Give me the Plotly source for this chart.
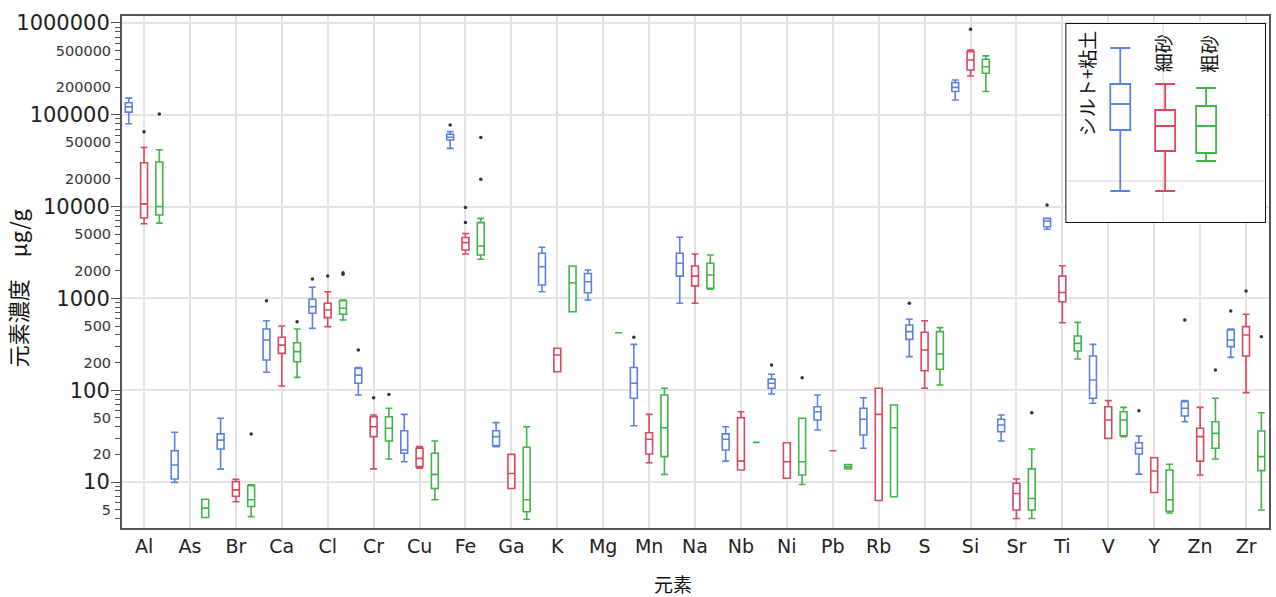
import plotly.graph_objects as go

# Elements on the x axis
ELEMENTS = ["Al", "As", "Br", "Ca", "Cl", "Cr", "Cu", "Fe", "Ga", "K", "Mg", "Mn", "Na",
            "Nb", "Ni", "Pb", "Rb", "S", "Si", "Sr", "Ti", "V", "Y", "Zn", "Zr"]

GROUPS = ["シルト+粘土", "細砂", "粗砂"]

# Five-number summaries (lower whisker, Q1, median, Q3, upper whisker) in µg/g,
# one entry per element; None where the fraction has no data.
SILT_CLAY = [
    (80000, 107000, 122000, 135000, 152000),  # Al
    (9.9, 10.8, 15.3, 21.9, 34.8),            # As
    (13.8, 22.9, 28.6, 33.4, 49.4),           # Br
    (157, 213, 352, 464, 571),                # Ca
    (472, 689, 813, 977, 1320),               # Cl
    (88.7, 119, 146, 173, 177),               # Cr
    (16.6, 20.6, 22.3, 36.2, 54.6),           # Cu
    (43100, 53100, 56900, 61300, 65500),      # Fe
    (24.3, 24.9, 31.2, 36.2, 44.3),           # Ga
    (1180, 1400, 2210, 3100, 3600),           # K
    (962, 1150, 1520, 1870, 2040),            # Mg
    (41, 81.7, 119, 177, 316),                # Mn
    (885, 1750, 2410, 3100, 4640),            # Na
    (16.9, 22.3, 29.2, 33.4, 40),             # Nb
    (91, 105, 119, 132, 149),                 # Ni
    (36.8, 47.3, 58.3, 66, 88.7),             # Pb
    (23.3, 32.5, 48.2, 63.5, 82.8),           # Rb
    (232, 358, 434, 513, 592),                # S
    (145000, 179000, 199000, 224000, 239000), # Si
    (28, 35.3, 41.8, 48.2, 53.7),             # Sr
    (5660, 6040, 6970, 7450, 7450),           # Ti
    (72, 81.7, 129, 236, 316),                # V
    (12.2, 20.2, 23.3, 26.8, 31.7),           # Y
    (45.4, 52.4, 63.5, 75, 76.9),             # Zn
    (228, 298, 352, 453, 464),                # Zr
]
FINE_SAND = [
    (6500, 7500, 10700, 30000, 44000),        # Al
    None,                                     # As
    (6.1, 7.0, 8.2, 10.1, 10.7),              # Br
    (111, 252, 310, 377, 500),                # Ca
    (492, 617, 748, 885, 1183),               # Cl
    (13.9, 31.2, 40, 51.4, 53.7),             # Cr
    (14.1, 14.7, 18.1, 23.3, 24.3),           # Cu
    (3050, 3370, 4050, 4600, 5100),           # Fe
    (8.5, 8.5, 12.4, 20, 20),                 # Ga
    (159, 159, 242, 286, 286),                # K
    None,                                     # Mg
    (16.2, 20.2, 29.2, 34.4, 54.6),           # Mn
    (885, 1370, 1750, 2250, 3050),            # Na
    (13.5, 13.5, 16.9, 50.1, 58.3),           # Nb
    (11, 11, 16.6, 26.8, 26.8),               # Ni
    (21.9, 21.9, 21.9, 21.9, 21.9),           # Pb
    (6.3, 6.3, 54.6, 105, 105),               # Rb
    (105, 163, 274, 427, 571),                # S
    (265000, 308000, 395000, 488000, 508000), # Si
    (4.0, 4.95, 7.5, 9.7, 10.8),              # Sr
    (543, 920, 1160, 1750, 2270),             # Ti
    (29.9, 29.9, 47.3, 66, 76.9),             # V
    (7.7, 7.7, 13.2, 18.4, 18.4),             # Y
    (11.9, 16.9, 31.2, 38.5, 65),             # Zn
    (94, 236, 399, 492, 671),                 # Zr
]
COARSE_SAND = [
    (6600, 8100, 10000, 30600, 41600),        # Al
    (4.1, 4.1, 5.2, 6.5, 6.5),                # As
    (4.2, 5.4, 6.4, 9.1, 9.3),                # Br
    (138, 204, 263, 329, 464),                # Ca
    (582, 671, 780, 944, 962),                # Cl
    (17.8, 28, 38.5, 51.4, 63.5),             # Cr
    (6.4, 8.5, 12.1, 20.6, 28),               # Cu
    (2670, 2970, 3720, 6680, 7450),           # Fe
    (3.93, 4.75, 6.4, 23.9, 40),              # Ga
    (716, 716, 1480, 2250, 2250),             # K
    (423, 423, 423, 423, 423),                # Mg
    (12.1, 18.9, 39, 88.7, 105),              # Mn
    (1260, 1290, 1800, 2410, 2970),           # Na
    (27, 27, 27, 27, 27),                     # Nb
    (9.4, 11.9, 16.6, 49.4, 49.4),            # Ni
    (14, 14, 14.7, 15.5, 15.5),               # Pb
    (6.9, 6.9, 39, 69, 69),                   # Rb
    (114, 169, 248, 434, 480),                # S
    (179000, 283000, 334000, 403000, 438000), # Si
    (4.0, 4.95, 6.6, 13.9, 22.9),             # Sr
    (219, 267, 324, 389, 548),                # Ti
    (31.2, 31.9, 47.3, 58.3, 65),             # V
    (4.6, 4.8, 6.4, 13.5, 15.6),              # Y
    (17.8, 23.3, 33.9, 45.4, 81.7),           # Zn
    (4.95, 13.3, 18.9, 36, 56.9),             # Zr
]

# Outlying samples (element, value in µg/g)
SILT_CLAY_OUTLIERS = [("Ca", 944), ("Cl", 1625), ("Cr", 274), ("Fe", 77400), ("Mn", 377),
                      ("Ni", 188), ("S", 885), ("Ti", 10400), ("Y", 59.8), ("Zn", 582),
                      ("Zr", 730)]
FINE_SAND_OUTLIERS = [("Al", 65500), ("Cl", 1755), ("Cr", 82.8), ("Fe", 9800), ("Fe", 6700),
                      ("Si", 853000), ("Zr", 1200)]
COARSE_SAND_OUTLIERS = [("Al", 102000), ("Br", 33.4), ("Ca", 557), ("Cl", 1830), ("Cl", 1900),
                        ("Cr", 90), ("Fe", 56400), ("Fe", 19800), ("Ni", 137), ("Sr", 56.9),
                        ("Zn", 166), ("Zr", 383)]

# Axis tick labels
MAJOR_TICKS = [10, 100, 1000, 10000, 100000, 1000000]
MINOR_LABEL_TICKS = [5, 20, 50, 200, 500, 2000, 5000, 20000, 50000, 200000, 500000]

COLORS = ["#5b82e0", "#d9485f", "#40b548"]
OFFSETS = [-0.333, 0.0, 0.333]
CJK = "Noto Sans CJK JP"
LATIN = "DejaVu Sans"

fig = go.Figure()

series = [(SILT_CLAY, SILT_CLAY_OUTLIERS), (FINE_SAND, FINE_SAND_OUTLIERS),
          (COARSE_SAND, COARSE_SAND_OUTLIERS)]

for (stats, outliers), name, off, color in zip(series, GROUPS, OFFSETS, COLORS):
    xs, lo, q1, md, q3, hi = [], [], [], [], [], []
    for i, s in enumerate(stats):
        if s is None:
            continue
        xs.append(i + off)
        lo.append(s[0]); q1.append(s[1]); md.append(s[2]); q3.append(s[3]); hi.append(s[4])
    fig.add_trace(go.Box(
        name=name, x=xs, lowerfence=lo, q1=q1, median=md, q3=q3, upperfence=hi,
        width=0.15, whiskerwidth=1, boxpoints=False,
        line=dict(color=color, width=1.6), fillcolor="white",
        showlegend=False, hoverinfo="skip",
    ))
    fig.add_trace(go.Scatter(
        x=[ELEMENTS.index(e) + off for e, _ in outliers],
        y=[v for _, v in outliers],
        mode="markers", marker=dict(size=3.5, color="#333333"),
        showlegend=False, hoverinfo="skip",
    ))

# Secondary (overlaid) y axis carries the smaller 2x / 5x labels
fig.add_trace(go.Scatter(x=[None], y=[None], yaxis="y3", showlegend=False, hoverinfo="skip"))

# ---- key: drawn in its own little axes (units are pixels inside the key box)
KEY_W, KEY_H = 201, 200
key_x = [55, 100, 141]
key_stats = [(25, 61, 81, 107, 168), (61, 87, 103, 128, 168), (65, 83, 103, 130, 138)]
for kx, ks, color in zip(key_x, key_stats, COLORS):
    fig.add_trace(go.Box(
        x=[kx], lowerfence=[ks[0]], q1=[ks[1]], median=[ks[2]], q3=[ks[3]], upperfence=[ks[4]],
        width=20, whiskerwidth=1, boxpoints=False, line=dict(color=color, width=1.8),
        fillcolor="white", xaxis="x2", yaxis="y2", showlegend=False, hoverinfo="skip",
    ))

label_pos = [(21, 60), (97, 30), (143, 31)]
annotations = []
for (lx, ly), name in zip(label_pos, GROUPS):
    annotations.append(dict(
        x=lx, y=ly, xref="x2", yref="y2", text=name, textangle=-90, showarrow=False,
        font=dict(family=CJK, size=19, color="#111"), xanchor="center", yanchor="middle",
    ))

W, H = 1276, 597
ML, MR, MT, MB = 122, 5, 16, 69
PW, PH = W - ML - MR, H - MT - MB

def px_x(p):
    return (p - ML) / PW

def px_y(p):
    return 1 - (p - MT) / PH

annotations.append(dict(
    x=px_x(17), y=px_y(288), xref="paper", yref="paper", text="元素濃度　μg/g",
    textangle=-90, showarrow=False, font=dict(family=CJK, size=22, color="#111"),
    xanchor="center", yanchor="middle",
))
annotations.append(dict(
    x=px_x(674), y=px_y(583), xref="paper", yref="paper", text="元素",
    showarrow=False, font=dict(family=CJK, size=19, color="#111"),
    xanchor="center", yanchor="middle",
))

# Key box: white backing that hides the main grid, its own faint guides, and a frame
shapes = [
    dict(type="rect", xref="x2", yref="y2", x0=0, x1=KEY_W, y0=0, y1=KEY_H,
         fillcolor="white", line=dict(width=0), layer="between"),
    dict(type="line", xref="x2", yref="y2", x0=98, x1=98, y0=0, y1=KEY_H,
         line=dict(color="#e2e2e2", width=1.5), layer="between"),
    dict(type="line", xref="x2", yref="y2", x0=0, x1=KEY_W, y0=158, y1=158,
         line=dict(color="#e2e2e2", width=1.5), layer="between"),
    dict(type="rect", xref="x2", yref="y2", x0=0, x1=KEY_W, y0=0, y1=KEY_H,
         line=dict(color="#111", width=2), layer="above"),
]

YR = [0.499, 6.076]
minor_vals = [m * 10 ** d for d in range(0, 6) for m in range(2, 10) if 3 < m * 10 ** d < 1.2e6]

fig.update_layout(
    width=W, height=H,
    margin=dict(l=ML, r=MR, t=MT, b=MB),
    paper_bgcolor="white", plot_bgcolor="white",
    boxmode="overlay",
    xaxis=dict(
        range=[-0.48, 24.5], tickvals=list(range(len(ELEMENTS))), ticktext=ELEMENTS,
        showgrid=True, gridcolor="#e3e3e3", gridwidth=1.5, zeroline=False,
        showline=True, mirror=True, linecolor="#555", linewidth=2, ticks="",
        tickfont=dict(family=LATIN, size=19, color="#222"),
    ),
    yaxis=dict(
        type="log", range=YR, tickvals=MAJOR_TICKS, ticktext=[str(v) for v in MAJOR_TICKS],
        showgrid=True, gridcolor="#e3e3e3", gridwidth=1.5, zeroline=False,
        showline=True, mirror=True, linecolor="#555", linewidth=2,
        ticks="outside", ticklen=9, tickwidth=1, tickcolor="#555",
        minor=dict(tickvals=minor_vals, ticks="outside", ticklen=5, tickwidth=1,
                   tickcolor="#555", showgrid=False),
        tickfont=dict(family=LATIN, size=21, color="#222"),
        ticklabelstandoff=-3,
    ),
    yaxis3=dict(
        type="log", range=YR, overlaying="y", side="left", anchor="x",
        tickvals=MINOR_LABEL_TICKS, ticktext=[str(v) for v in MINOR_LABEL_TICKS],
        showgrid=False, zeroline=False, showline=False,
        ticks="outside", ticklen=9, tickcolor="rgba(0,0,0,0)",
        tickfont=dict(family=LATIN, size=14.5, color="#333"),
        ticklabelstandoff=-2,
    ),
    xaxis2=dict(domain=[px_x(1067), px_x(1268)], range=[0, KEY_W], anchor="y2",
                visible=False, fixedrange=True),
    yaxis2=dict(domain=[px_y(223), px_y(23)], range=[KEY_H, 0], anchor="x2",
                visible=False, fixedrange=True),
    annotations=annotations,
    shapes=shapes,
)

fig.write_html("out.html")
